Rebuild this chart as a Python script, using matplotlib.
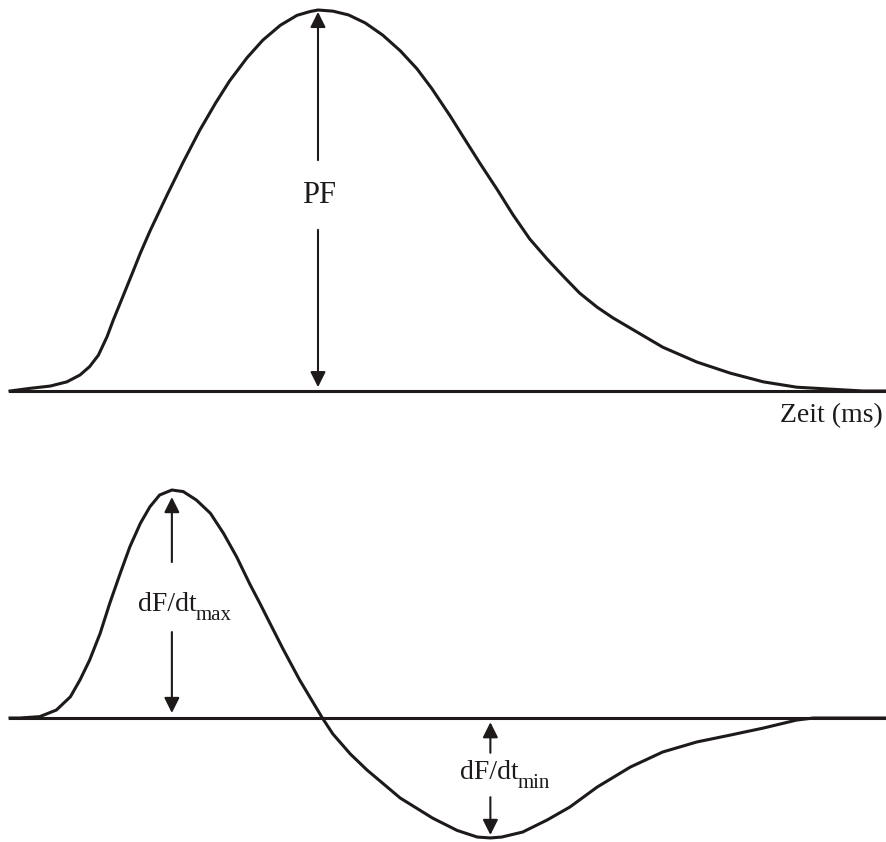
import numpy as np
import matplotlib
matplotlib.use("Agg")
import matplotlib.pyplot as plt

plt.rcParams['font.family'] = ['Liberation Serif', 'DejaVu Serif']

# force curve (time in % of window, force in % of peak)
t_force = [0.0, 2.3, 4.6, 6.5, 8.0, 9.1, 10.1, 11.1, 11.8, 12.9, 14.1, 14.9,
           16.0, 17.9, 19.8, 21.7, 23.5, 25.1, 27.1, 28.9, 30.9, 32.8, 34.3,
           35.2, 36.9, 38.7, 40.6, 42.6, 44.6, 46.5, 48.2, 50.3, 51.8, 53.7,
           55.7, 57.5, 59.4, 61.4, 63.2, 65.1, 67.1, 68.9, 70.9, 74.6, 78.5,
           82.3, 86.1, 89.9, 93.7, 97.5, 100.0]
force = [0.0, 0.7, 1.3, 2.4, 4.2, 6.4, 9.4, 14.3, 18.6, 24.8, 31.6, 36.2,
         42.0, 51.2, 60.1, 68.5, 75.6, 81.4, 87.5, 92.1, 96.0, 98.6, 99.6,
         100.0, 99.7, 98.7, 96.6, 93.4, 89.3, 84.6, 79.4, 72.2, 66.7, 59.8,
         52.8, 46.2, 39.9, 34.6, 30.2, 25.7, 22.0, 19.2, 16.5, 11.5, 7.6,
         4.7, 2.4, 1.0, 0.5, 0.0, 0.0]

# rate of force development (in % of max)
t_rate = [0.0, 1.1, 3.4, 5.3, 6.9, 8.0, 9.1, 10.3, 11.4, 12.6, 13.7, 14.9,
          16.0, 17.1, 18.5, 19.8, 21.3, 22.9, 24.4, 25.9, 27.4, 28.6, 29.4,
          31.2, 33.1, 35.7, 36.9, 38.9, 40.8, 44.6, 48.3, 51.1, 53.4, 54.9,
          56.2, 58.6, 61.4, 64.0, 67.1, 70.9, 74.6, 78.5, 82.3, 86.1, 89.9,
          91.8, 100.0]
rate = [0.0, 0.0, 0.6, 3.5, 9.3, 16.7, 25.4, 37.1, 50.3, 63.5, 75.1, 85.4,
        92.7, 97.8, 100.0, 99.3, 95.6, 89.8, 81.0, 70.7, 58.8, 50.0, 43.9,
        30.3, 16.7, 0.0, -7.0, -15.8, -22.8, -35.1, -43.9, -49.3, -52.2,
        -52.6, -52.2, -50.0, -44.7, -39.0, -30.3, -21.5, -14.9, -10.5, -7.5,
        -4.4, -0.9, 0.0, 0.0]

ink = '#1e1a1a'
curve_lw = 2.2
arrow_kw = dict(arrowstyle='-|>', color=ink, lw=1.5, mutation_scale=23,
                shrinkA=0, shrinkB=0)


def arrow(ax, x, y0, y1):
    ax.annotate('', xy=(x, y1), xytext=(x, y0), arrowprops=arrow_kw,
                annotation_clip=False)


def label_sub(ax, x, y, main, sub):
    t = ax.text(x, y, main, ha='left', va='baseline', fontsize=20, color=ink)
    ax.annotate(sub, xy=(1, 0), xycoords=t, xytext=(-0.5, -2),
                textcoords='offset points', ha='left', va='baseline',
                fontsize=15, color=ink)


fig = plt.figure(figsize=(8.87, 8.42), dpi=100)

# ---- top: force ----
ax1 = fig.add_axes([10 / 887, 451 / 842, 875 / 887, 381 / 842])
ax1.set_xlim(0, 100)
ax1.set_ylim(0, 100)
ax1.axhline(0, color=ink, lw=2.2, clip_on=False)
ax1.plot(t_force, force, color=ink, lw=curve_lw, clip_on=False,
         solid_joinstyle='round')
i_pf = int(np.argmax(force))
pf = force[i_pf]
arrow(ax1, t_force[i_pf], 0.606 * pf, 0.995 * pf)
arrow(ax1, t_force[i_pf], 0.423 * pf, 0.01 * pf)
ax1.text(t_force[i_pf] + 0.1, 0.493 * pf, 'PF', ha='center', va='baseline',
         fontsize=22, color=ink)
ax1.text(99.7, -8.1, 'Zeit (ms)', ha='right', va='baseline', fontsize=20,
         color=ink)
ax1.axis('off')

# ---- bottom: dF/dt ----
ax2 = fig.add_axes([10 / 887, 2 / 842, 875 / 887, 350 / 842])
ax2.set_xlim(0, 100)
ax2.set_ylim(-53.5, 100)
ax2.axhline(0, color=ink, lw=2.2, clip_on=False)
ax2.plot(t_rate, rate, color=ink, lw=curve_lw, clip_on=False,
         solid_joinstyle='round')
i_max = int(np.argmax(rate))
i_min = int(np.argmin(rate))
rmax, rmin = rate[i_max], rate[i_min]
arrow(ax2, t_rate[i_max], 0.684 * rmax, 0.969 * rmax)
arrow(ax2, t_rate[i_max], 0.377 * rmax, 0.022 * rmax)
label_sub(ax2, 14.6, 0.469 * rmax, 'dF/dt', 'max')
arrow(ax2, t_rate[i_min], 0.29 * rmin, 0.035 * rmin)
arrow(ax2, t_rate[i_min], 0.66 * rmin, 0.975 * rmin)
label_sub(ax2, 51.4, 0.51 * rmin, 'dF/dt', 'min')
ax2.axis('off')

fig.savefig('out.png', dpi=100)
